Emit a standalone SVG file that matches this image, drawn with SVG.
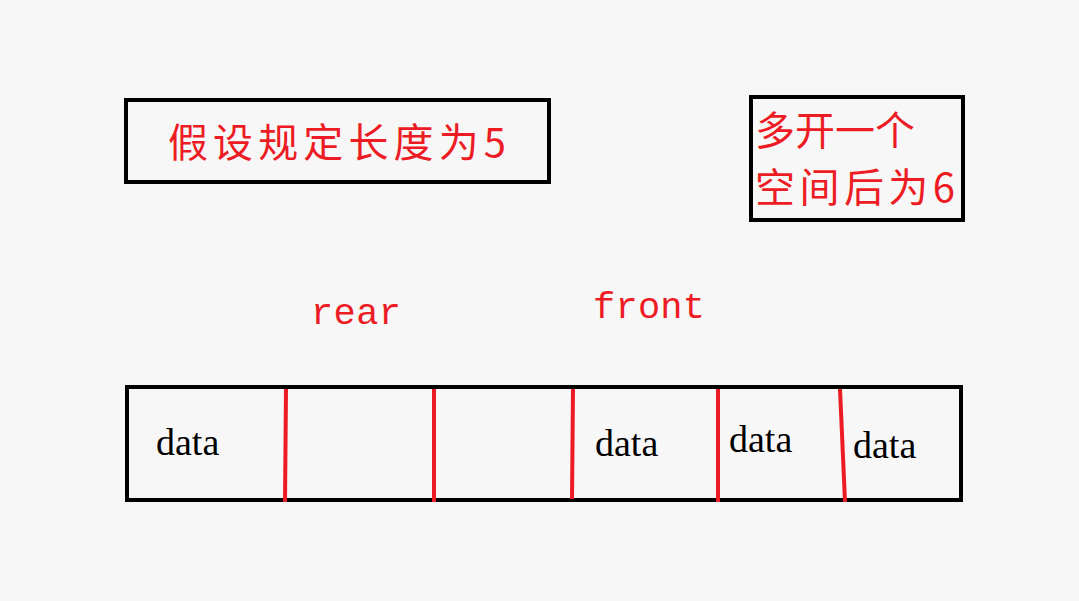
<svg xmlns="http://www.w3.org/2000/svg" width="1079" height="601" viewBox="0 0 1079 601">
<style>
.box{fill:none;stroke:#000;stroke-width:4}
.div{stroke:#ed1c24;stroke-width:4}
.cn{font-family:"Noto Sans CJK SC","Noto Sans CJK SC",sans-serif;fill:#ed1c24}
.lbl{font-family:"Liberation Mono",monospace;fill:#ed1c24;font-size:37px}
.d{font-family:"Liberation Serif",serif;font-size:38px;fill:#000}
</style>
<rect width="1079" height="601" fill="#f7f7f7"/>
<g id="note1"><rect class="box" x="126" y="100" width="423" height="82"/>
<text class="cn" x="168" y="157" font-size="40" textLength="338">假设规定长度为5</text></g>
<g id="note2"><rect class="box" x="751" y="97" width="212" height="123"/>
<text class="cn" x="755" y="145" font-size="40">多开一个</text>
<text class="cn" x="755" y="202" font-size="40" textLength="200">空间后为6</text></g>
<g id="rear"><text class="lbl" x="311" y="324" textLength="90">rear</text></g>
<g id="front"><text class="lbl" x="593" y="318" textLength="112">front</text></g>
<g id="array"><rect class="box" x="127" y="387" width="834" height="113"/>
<text class="d" x="156" y="455">data</text>
<text class="d" x="595" y="456">data</text>
<text class="d" x="729" y="452">data</text>
<text class="d" x="853" y="458">data</text></g>
<g id="connectors">
<line class="div" x1="286" y1="389" x2="285" y2="502"/>
<line class="div" x1="434" y1="389" x2="434" y2="502"/>
<line class="div" x1="573" y1="389" x2="572" y2="499"/>
<line class="div" x1="718" y1="389" x2="718" y2="502"/>
<line class="div" x1="840" y1="389" x2="845" y2="502"/>
</g>
</svg>
